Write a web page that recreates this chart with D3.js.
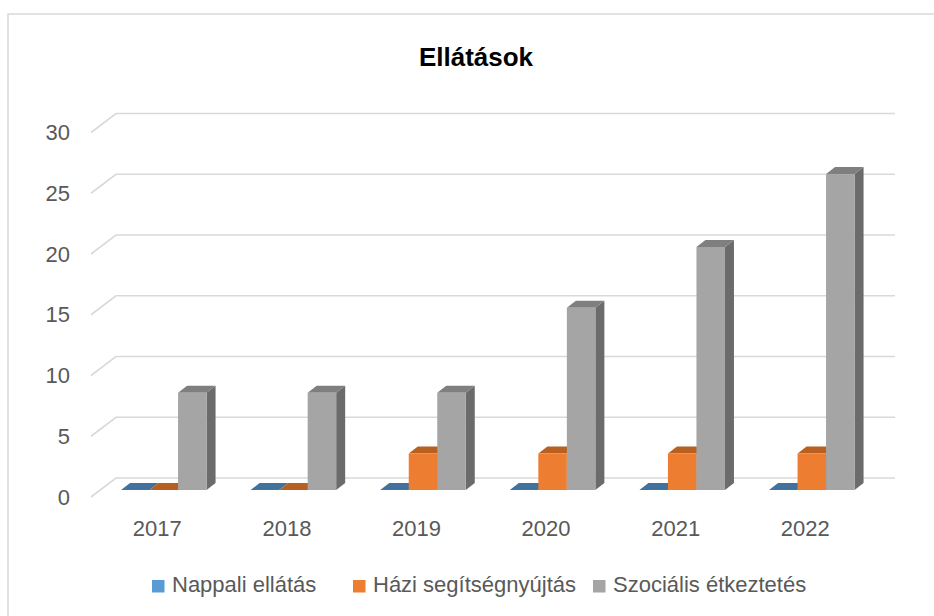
<!DOCTYPE html>
<html>
<head>
<meta charset="utf-8">
<script src="https://cdn.jsdelivr.net/npm/d3@7"></script>
<style>
  body { margin: 0; background: #fff; }
  text { font-family: "Liberation Sans", Arial, sans-serif; }
</style>
</head>
<body>
<div class="chart-container"></div>
<script>
// Data.
const years = ["2017", "2018", "2019", "2020", "2021", "2022"];
const seriesNames = ["Nappali ellátás", "Házi segítségnyújtás", "Szociális étkeztetés"];
const nappali = [0, 0, 0, 0, 0, 0];
const hazi = [0, 0, 3, 3, 3, 3];
const szocialis = [8, 8, 8, 15, 20, 26];
const yTicks = [0, 5, 10, 15, 20, 25, 30];

// Face colours per series: front, top, side.
const colors = [
  { front: "#5B9BD5", top: "#41719C", side: "#3A6A95" },
  { front: "#ED7D31", top: "#B8601F", side: "#A8561C" },
  { front: "#A5A5A5", top: "#7F7F7F", side: "#6B6B6B" },
];

const width = 934;
const height = 616;

const svg = d3
  .select(".chart-container")
  .append("svg")
  .attr("width", width)
  .attr("height", height);

// Chart frame (runs off the right and bottom edges).
svg
  .append("rect")
  .attr("x", 8)
  .attr("y", 14)
  .attr("width", 1000)
  .attr("height", 700)
  .attr("fill", "none")
  .attr("stroke", "#d9d9d9")
  .attr("stroke-width", 1.5);

// Title.
svg
  .append("text")
  .attr("x", 476)
  .attr("y", 66)
  .attr("text-anchor", "middle")
  .style("font-size", "26px")
  .style("font-weight", "bold")
  .style("fill", "#000")
  .text("Ellátások");

// Scales.
const yScale = d3.scaleLinear().domain([0, 30]).range([490, 125.5]);

const xScale = d3
  .scaleBand()
  .domain(years)
  .range([99, 99 + 6 * 129.6])
  .paddingInner(0.34)
  .paddingOuter(0.17);

const xSeries = d3
  .scaleBand()
  .domain(seriesNames)
  .range([0, xScale.bandwidth()]);

// 3D offsets.
const wall = { x0: 91, x1: 116, x2: 895, front: 7, back: -12 };
const depth = { dx: 9, dy: -7 };

// Walls / gridlines.
const grid = svg.append("g").attr("class", "grid");
grid
  .selectAll("path")
  .data(yTicks)
  .enter()
  .append("path")
  .attr("d", (d) => {
    const yf = yScale(d) + wall.front;
    const yb = yScale(d) + wall.back;
    return `M${wall.x0},${yf} L${wall.x1},${yb} L${wall.x2},${yb}`;
  })
  .attr("fill", "none")
  .attr("stroke", "#d9d9d9")
  .attr("stroke-width", 1.6);

// Y tick labels.
svg
  .append("g")
  .selectAll("text")
  .data(yTicks)
  .enter()
  .append("text")
  .attr("x", 70)
  .attr("y", (d) => yScale(d) + wall.front)
  .attr("dy", "0.35em")
  .attr("text-anchor", "end")
  .style("font-size", "22px")
  .style("fill", "#595959")
  .text((d) => d);

// X labels.
svg
  .append("g")
  .selectAll("text")
  .data(years)
  .enter()
  .append("text")
  .attr("x", (d) => xScale(d) + xScale.bandwidth() / 2 - 6.5)
  .attr("y", 536)
  .attr("text-anchor", "middle")
  .style("font-size", "22px")
  .style("fill", "#595959")
  .text((d) => d);

// Bars.
const allSeries = [nappali, hazi, szocialis];
const barData = [];
years.forEach((year, i) => {
  allSeries.forEach((values, s) => {
    barData.push({ year: year, series: seriesNames[s], s: s, value: values[i] });
  });
});

const bars = svg
  .append("g")
  .attr("class", "bars")
  .selectAll("g")
  .data(barData)
  .enter()
  .append("g");

const base = yScale(0);
const bw = xSeries.bandwidth();

bars
  .append("path")
  .attr("d", (d) => {
    const x = xScale(d.year) + xSeries(d.series);
    return `M${x + bw},${yScale(d.value)} L${x + bw + depth.dx},${yScale(d.value) + depth.dy} L${x + bw + depth.dx},${base + depth.dy} L${x + bw},${base} Z`;
  })
  .attr("fill", (d) => colors[d.s].side);

bars
  .append("path")
  .attr("d", (d) => {
    const x = xScale(d.year) + xSeries(d.series);
    const y = yScale(d.value);
    return `M${x},${y} L${x + depth.dx},${y + depth.dy} L${x + bw + depth.dx},${y + depth.dy} L${x + bw},${y} Z`;
  })
  .attr("fill", (d) => colors[d.s].top);

bars
  .append("rect")
  .attr("x", (d) => xScale(d.year) + xSeries(d.series))
  .attr("y", (d) => yScale(d.value))
  .attr("width", bw)
  .attr("height", (d) => base - yScale(d.value))
  .attr("fill", (d) => colors[d.s].front);

// Legend.
const legendX = [152, 353, 593];
const legend = svg
  .append("g")
  .attr("class", "legend")
  .selectAll("g")
  .data(seriesNames)
  .enter()
  .append("g")
  .attr("transform", (d, i) => `translate(${legendX[i]}, 580)`);

legend
  .append("rect")
  .attr("width", 12.5)
  .attr("height", 12.5)
  .attr("fill", (d, i) => colors[i].front);

legend
  .append("text")
  .attr("x", 20)
  .attr("y", 12)
  .style("font-size", "22px")
  .style("fill", "#595959")
  .text((d) => d);
</script>
</body>
</html>
